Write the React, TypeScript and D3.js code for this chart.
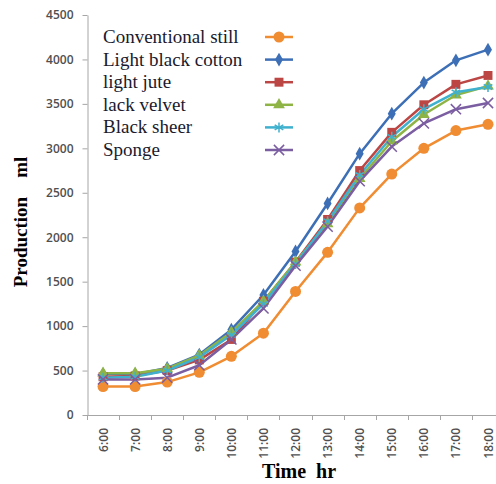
import React, { useEffect, useRef } from 'react';
import * as d3 from 'd3';

const hours = ['6:00', '7:00', '8:00', '9:00', '10:00', '11:00', '12:00', '13:00', '14:00', '15:00', '16:00', '17:00', '18:00'];
const yTicks = [0, 500, 1000, 1500, 2000, 2500, 3000, 3500, 4000, 4500];

const conventional = [320, 320, 370, 480, 660, 920, 1390, 1830, 2330, 2710, 3000, 3200, 3270];
const lightBlackCotton = [460, 460, 530, 680, 960, 1350, 1840, 2380, 2940, 3390, 3740, 3990, 4110];
const lightJute = [430, 440, 500, 620, 850, 1280, 1720, 2200, 2750, 3180, 3490, 3720, 3820];
const lackVelvet = [470, 470, 520, 670, 930, 1280, 1720, 2150, 2660, 3080, 3380, 3600, 3700];
const blackSheer = [420, 430, 500, 650, 900, 1250, 1700, 2180, 2700, 3130, 3440, 3630, 3690];
const sponge = [400, 400, 420, 560, 850, 1200, 1680, 2120, 2630, 3020, 3280, 3440, 3510];

const seriesNames = ['Conventional still', 'Light black cotton', 'light jute', 'lack velvet', 'Black sheer', 'Sponge'];

const Chart: React.FC = () => {
  const svgRef = useRef<SVGSVGElement>(null);

  useEffect(() => {
    if (!svgRef.current) return;
    const svg = d3.select(svgRef.current);
    svg.selectAll('*').remove();

    const axisColor = '#a6a6a6';
    const tickFont = '"Open Sans", sans-serif';
    const series = [
      { name: seriesNames[0], values: conventional, color: '#f08c32', symbol: d3.symbolCircle, size: 95, stroke: false },
      { name: seriesNames[1], values: lightBlackCotton, color: '#3d6fb6', symbol: d3.symbolDiamond, size: 55, stroke: false },
      { name: seriesNames[2], values: lightJute, color: '#bb4644', symbol: d3.symbolSquare, size: 80, stroke: false },
      { name: seriesNames[3], values: lackVelvet, color: '#8fb446', symbol: d3.symbolTriangle, size: 60, stroke: false },
      { name: seriesNames[4], values: blackSheer, color: '#3fb0ce', symbol: d3.symbolAsterisk, size: 70, stroke: true },
      { name: seriesNames[5], values: sponge, color: '#7b5da1', symbol: d3.symbolTimes, size: 70, stroke: true },
    ];

    const x = d3.scaleBand<string>()
      .domain(hours)
      .range([87, 87 + 13 * 32.08]);

    const y = d3.scaleLinear()
      .domain([0, 4500])
      .range([415, 15]);

    const cx = (h: string) => (x(h) ?? 0) + x.bandwidth() / 2;

    // Y axis
    const yAxis = svg.append('g')
      .attr('transform', 'translate(87.5,0)')
      .call(d3.axisLeft(y).tickValues(yTicks).tickFormat(d3.format('d')).tickSize(5).tickSizeOuter(0).tickPadding(9));
    yAxis.selectAll('line, path').attr('stroke', axisColor);
    yAxis.selectAll('text')
      .attr('font-family', tickFont)
      .attr('font-size', 12)
      .attr('font-weight', 600)
      .attr('fill', '#505050');

    // X axis
    const xTickPos = d3.range(hours.length + 1).map(i => 87 + i * x.bandwidth());
    const xAxis = svg.append('g');
    xAxis.append('line')
      .attr('x1', 87).attr('x2', 496)
      .attr('y1', 415.5).attr('y2', 415.5)
      .attr('stroke', axisColor);
    xAxis.selectAll('line.tick')
      .data(xTickPos)
      .enter()
      .append('line')
      .attr('class', 'tick')
      .attr('x1', d => Math.round(d) + 0.5).attr('x2', d => Math.round(d) + 0.5)
      .attr('y1', 415).attr('y2', 420)
      .attr('stroke', axisColor);
    xAxis.selectAll('text')
      .data(hours)
      .enter()
      .append('text')
      .attr('transform', d => `translate(${cx(d) + 4.5},428) rotate(-90)`)
      .attr('text-anchor', 'end')
      .attr('font-family', tickFont)
      .attr('font-size', 12)
      .attr('font-weight', 600)
      .attr('fill', '#505050')
      .text(d => d);

    // Axis titles
    svg.append('text')
      .attr('transform', 'translate(27,222) rotate(-90)')
      .attr('text-anchor', 'middle')
      .attr('font-family', '"Liberation Serif", "Times New Roman", serif')
      .attr('font-weight', 'bold')
      .attr('font-size', 19)
      .attr('fill', '#000')
      .attr('xml:space', 'preserve')
      .text('Production    ml');

    svg.append('text')
      .attr('x', 299)
      .attr('y', 478)
      .attr('text-anchor', 'middle')
      .attr('font-family', '"Liberation Serif", "Times New Roman", serif')
      .attr('font-weight', 'bold')
      .attr('font-size', 20)
      .attr('fill', '#000')
      .attr('xml:space', 'preserve')
      .text('Time  hr');

    // Lines and markers
    const line = d3.line<number>()
      .x((_, i) => cx(hours[i]))
      .y(d => y(d));

    series.forEach(s => {
      svg.append('path')
        .datum(s.values)
        .attr('d', line)
        .attr('fill', 'none')
        .attr('stroke', s.color)
        .attr('stroke-width', 2.5)
        .attr('stroke-linejoin', 'round');
    });

    series.forEach(s => {
      const sym = d3.symbol().type(s.symbol).size(s.size);
      svg.append('g')
        .selectAll('path')
        .data(s.values)
        .enter()
        .append('path')
        .attr('transform', (d, i) => `translate(${cx(hours[i])},${y(d)})`)
        .attr('d', sym)
        .attr('fill', s.stroke ? 'none' : s.color)
        .attr('stroke', s.color)
        .attr('stroke-width', s.stroke ? 1.5 : 0);
    });

    // Legend
    const legend = svg.append('g');
    series.forEach((s, i) => {
      const ly = 37 + i * 22.6;
      legend.append('text')
        .attr('x', 103)
        .attr('y', ly + 6)
        .attr('font-family', '"Liberation Serif", "Times New Roman", serif')
        .attr('font-size', 19)
        .attr('fill', '#1a1a2e')
        .text(s.name);
      legend.append('line')
        .attr('x1', 265).attr('x2', 293)
        .attr('y1', ly).attr('y2', ly)
        .attr('stroke', s.color)
        .attr('stroke-width', 2.5);
      legend.append('path')
        .attr('transform', `translate(279,${ly})`)
        .attr('d', d3.symbol().type(s.symbol).size(s.size)())
        .attr('fill', s.stroke ? 'none' : s.color)
        .attr('stroke', s.color)
        .attr('stroke-width', s.stroke ? 1.5 : 0);
    });
  }, []);

  return (
    <svg
      ref={svgRef}
      width={496}
      height={484}
      style={{ position: 'absolute', left: 0, top: 0, display: 'block', background: '#fff' }}
    />
  );
};

export default function App() {
  return <Chart />;
}
